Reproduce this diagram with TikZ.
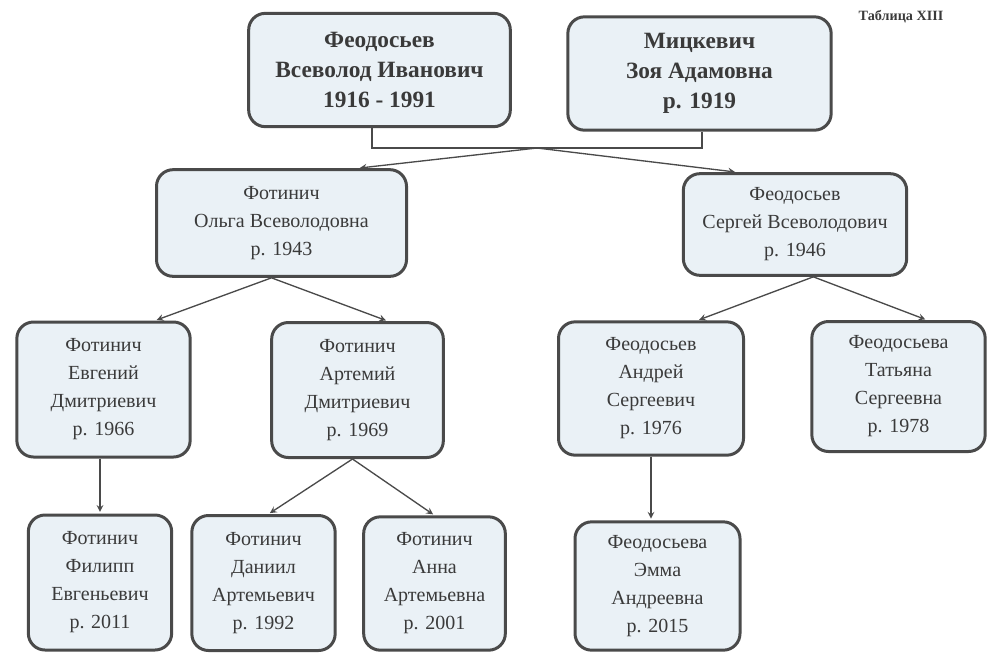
\documentclass[tikz,border=0pt]{standalone}
\usepackage{fontspec}
\setmainfont{Liberation Serif}
\usetikzlibrary{arrows}
\definecolor{boxfill}{HTML}{EAF1F6}
\definecolor{boxline}{HTML}{4A4A4A}
\definecolor{inkgray}{HTML}{3A3A3A}
\tikzset{
    ->, % every connector points from parent to child
    >=stealth, % small dark arrow heads
    person/.style={draw=boxline, line width=1.8pt, fill=boxfill, rounded corners=10pt, align=center, text=inkgray, inner sep=2pt, font=\fontsize{12}{16.8}\selectfont}, % one relative of the tree
    elder/.style={person, font=\bfseries\fontsize{14}{18}\selectfont}, % the two ancestors on top
    link/.style={draw=boxline, line width=0.8pt, shorten >=1pt}, % line from parent to child
}

\begin{document}
\begin{tikzpicture}[x=0.6pt, y=-0.6pt]
    \useasboundingbox (0,0) rectangle (988,654);
    \node[font=\bfseries\fontsize{8.5}{10}\selectfont, text=inkgray] (title) at (901,17) {Таблица XIII};
    \node[elder, minimum width=157pt, minimum height=68pt] (p1) at (379.5,70) {Феодосьев\\Всеволод Иванович\\1916 - 1991};
    \node[elder, minimum width=158pt, minimum height=68pt] (p2) at (699.5,73.5) {Мицкевич\\Зоя Адамовна\\р. 1919};
    \node[person, minimum width=150pt, minimum height=64pt] (olga) at (281.5,223) {Фотинич\\Ольга Всеволодовна\\р. 1943};
    \node[person, minimum width=134pt, minimum height=61pt] (sergey) at (795,224.5) {Феодосьев\\Сергей Всеволодович\\р. 1946};
    \node[person, minimum width=104pt, minimum height=81pt] (evgeny) at (103.5,389.5) {Фотинич\\Евгений\\Дмитриевич\\р. 1966};
    \node[person, minimum width=103pt, minimum height=81pt] (artemy) at (357.5,390) {Фотинич\\Артемий\\Дмитриевич\\р. 1969};
    \node[person, minimum width=111pt, minimum height=80pt] (andrei) at (651,388.5) {Феодосьев\\Андрей\\Сергеевич\\р. 1976};
    \node[person, minimum width=104pt, minimum height=78pt] (tatyana) at (898.5,386.5) {Феодосьева\\Татьяна\\Сергеевна\\р. 1978};
    \node[person, minimum width=86pt, minimum height=81pt] (philipp) at (100,582.5) {Фотинич\\Филипп\\Евгеньевич\\р. 2011};
    \node[person, minimum width=86pt, minimum height=81pt] (daniil) at (263.5,583) {Фотинич\\Даниил\\Артемьевич\\р. 1992};
    \node[person, minimum width=85pt, minimum height=80pt] (anna) at (434.5,583.5) {Фотинич\\Анна\\Артемьевна\\р. 2001};
    \node[person, minimum width=99pt, minimum height=77pt] (emma) at (657.5,586) {Феодосьева\\Эмма\\Андреевна\\р. 2015};
    \coordinate (mid) at (537,148);
    \draw[link, -, shorten >=0pt] ([xshift=-4.5pt]p1.south) -- ([xshift=-4.5pt]p1.south |- mid) -- ([xshift=1.5pt]p2.south |- mid) -- ([xshift=1.5pt]p2.south);
    \draw[link] (mid) -- ([xshift=46pt]olga.north);
    \draw[link] (mid) -- ([xshift=-35pt]sergey.north);
    \draw[link] ([xshift=-6pt]olga.south) -- ([xshift=31pt]evgeny.north);
    \draw[link] ([xshift=-6pt]olga.south) -- ([xshift=18pt]artemy.north);
    \draw[link] ([xshift=11pt]sergey.south) -- ([xshift=28pt]andrei.north);
    \draw[link] ([xshift=11pt]sergey.south) -- ([xshift=17pt]tatyana.north);
    \draw[link] (evgeny.south -| philipp.north) -- (philipp.north);
    \draw[link] ([xshift=-3pt]artemy.south) -- ([xshift=3pt]daniil.north);
    \draw[link] ([xshift=-3pt]artemy.south) -- (anna.north);
    \draw[link] (andrei.south) -- (andrei.south |- emma.north);
\end{tikzpicture}
\end{document}
